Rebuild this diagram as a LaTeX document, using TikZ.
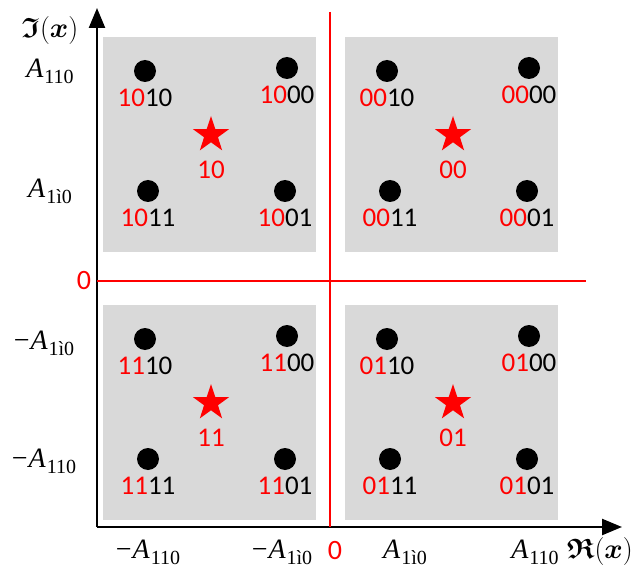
\RequirePackage{fix-cm}
\documentclass[tikz,border=0pt]{standalone}
\usepackage{amsmath,amssymb}
\usepackage{fontspec}
\setmainfont{Carlito}
\newfontfamily\subfont{Liberation Serif}
\usetikzlibrary{arrows.meta, positioning, shapes.geometric}
\tikzset{%
   % constellation point
   dot/.style={
      circle,
      inner sep=0pt,
      outer sep=0pt,
      minimum size=22pt,
      fill=black
   },
   % centroid of a quadrant
   centroid/.style={
      star,
      star points=5,
      star point ratio=2.6,
      inner sep=0pt,
      minimum size=38pt,
      fill=red
   },
   bits/.style={font=\fontsize{27}{30}\selectfont, inner sep=0pt},
   tick/.style={font=\fontsize{28}{30}\selectfont, inner sep=1pt},
   quadrant/.style={fill=black!15, draw=none},
   axis/.style={line width=2.4pt, -{Triangle[length=20pt, width=16pt]}},
   split/.style={red, line width=1.4pt},
}
% amplitude labels with a large subscript
\newcommand{\amp}[1]{{\subfont\itshape A}\kern1pt\raisebox{-6pt}{\fontsize{20}{22}\subfont #1}}
\newcommand{\Ahi}{\amp{110}}
\newcommand{\Alo}{\amp{1ì0}}
\newcommand{\minus}{{\subfont −}\kern1pt}

\begin{document}
\begin{tikzpicture}[x=1pt, y=-1pt]
  \useasboundingbox (0,0) rectangle (635,567);
  % quadrants
  \foreach \ox/\oy/\pre in {0/0/10, 242/0/00, 0/268/11, 242/268/01}{
    \begin{scope}[shift={(\ox,\oy)}]
      \fill[quadrant] (103,37) rectangle (316,252);
      \foreach \px/\py/\suf in {145/71/10, 287/68/00, 148/191/11, 285/191/01}{
        \node[dot] (d\pre\suf) at (\px,\py) {};
        \node[bits, below=7pt of d\pre\suf] (l\pre\suf) {\textcolor{red}{\pre}\suf};
      }
      \node[centroid] (s\pre) at (211,135) {};
      \node[bits, text=red] (ls\pre) at (211,170) {\pre};
    \end{scope}
  }
  % axes
  \coordinate (o) at (97,527);
  \coordinate (xtip) at (622,527);
  \coordinate (ytip) at (97,8);
  \draw[axis] (o) -- (ytip);
  \draw[axis] (o) -- (xtip);
  % decision boundaries
  \coordinate (vtop) at (330,12);
  \coordinate (vbot) at (330,527);
  \coordinate (hl) at (97,281);
  \coordinate (hr) at (586,281);
  \draw[split] (vtop) -- (vbot);
  \draw[split] (hl) -- (hr);
  % axis labels
  \node[tick] (im) at (50,31) {$\boldsymbol{\mathfrak{I}}(\boldsymbol{x})$};
  \node[tick] (re) at (600,551) {$\boldsymbol{\mathfrak{R}}(\boldsymbol{x})$};
  \node[tick] (y1) at (50,71) {\Ahi};
  \node[tick] (y2) at (50,191) {\Alo};
  \node[tick, text=red] (y0) at (84,281) {0};
  \node[tick] (y3) at (44,343) {\minus\Alo};
  \node[tick] (y4) at (44,461) {\minus\Ahi};
  \node[tick] (x1) at (148,552) {\minus\Ahi};
  \node[tick] (x2) at (282,552) {\minus\Alo};
  \node[tick, text=red] (x0) at (335,551) {0};
  \node[tick] (x3) at (405,552) {\Alo};
  \node[tick] (x4) at (535,552) {\Ahi};
\end{tikzpicture}
\end{document}
